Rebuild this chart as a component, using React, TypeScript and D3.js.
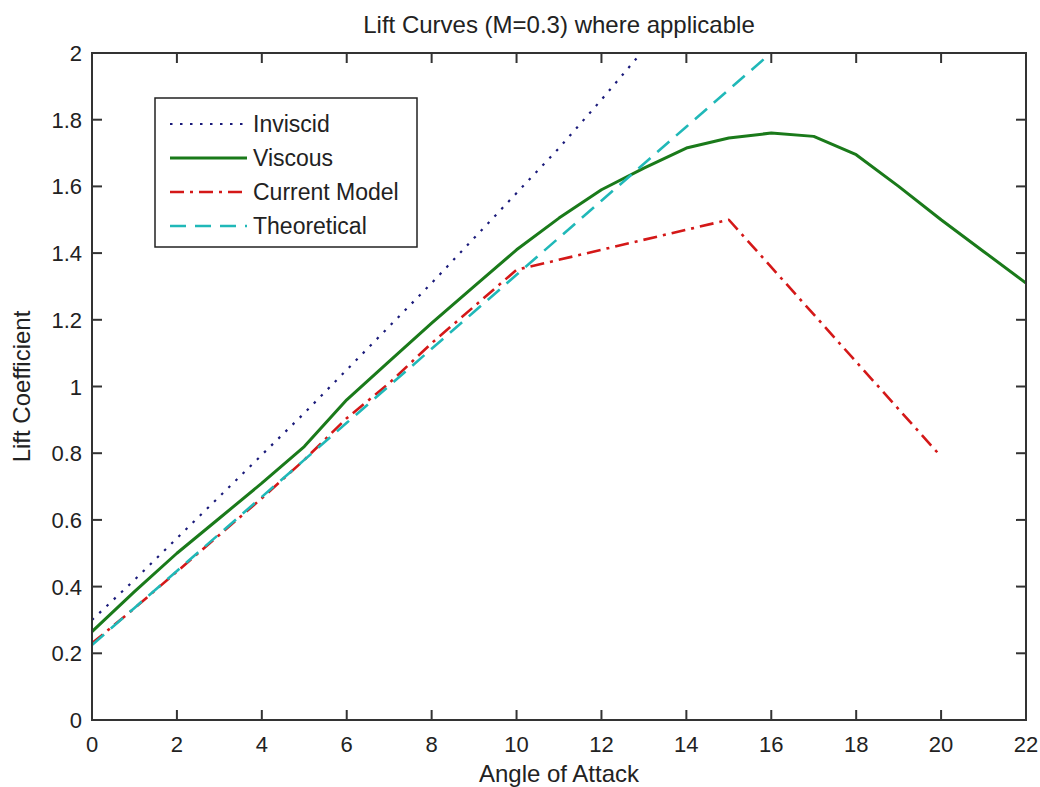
import React from "react";
import * as d3 from "d3";

const title = "Lift Curves (M=0.3) where applicable";
const xLabel = "Angle of Attack";
const yLabel = "Lift Coefficient";

const xTicks = [0, 2, 4, 6, 8, 10, 12, 14, 16, 18, 20, 22];
const yTicks = [0, 0.2, 0.4, 0.6, 0.8, 1, 1.2, 1.4, 1.6, 1.8, 2];

const inviscidAlpha = [0, 1, 2, 3, 4, 5, 6, 7, 8, 9, 10, 11, 12, 13];
const inviscidCL = [0.3, 0.42, 0.545, 0.67, 0.795, 0.92, 1.05, 1.18, 1.31, 1.445, 1.58, 1.715, 1.86, 2.01];

const viscousAlpha = [0, 1, 2, 3, 4, 5, 6, 7, 8, 9, 10, 11, 12, 13, 14, 15, 16, 17, 18, 19, 20, 21, 22];
const viscousCL = [0.265, 0.385, 0.5, 0.605, 0.71, 0.82, 0.96, 1.075, 1.19, 1.3, 1.41, 1.505, 1.59, 1.655, 1.715, 1.745, 1.76, 1.75, 1.695, 1.6, 1.5, 1.405, 1.31];

const currentAlpha = [0, 1, 2, 3, 4, 5, 6, 7, 8, 9, 10, 15, 20];
const currentCL = [0.23, 0.335, 0.445, 0.555, 0.665, 0.78, 0.905, 1.01, 1.13, 1.24, 1.35, 1.5, 0.79];

const theoryAlpha = [0, 1, 2, 3, 4, 5, 6, 7, 8, 9, 10, 11, 12, 13, 14, 15, 16, 17];
const theoryCL = [0.225, 0.336, 0.447, 0.558, 0.669, 0.78, 0.891, 1.002, 1.113, 1.224, 1.335, 1.446, 1.557, 1.668, 1.779, 1.89, 2.001, 2.112];

const seriesNames = ["Inviscid", "Viscous", "Current Model", "Theoretical"];
const seriesColors = ["#1a1a7a", "#1a7a1a", "#d41818", "#20b8b8"];

const W = 1040;
const H = 787;
const M = { left: 92, right: 1026, top: 53, bottom: 720 };
const FONT = "'Liberation Sans', Arial, Helvetica, sans-serif";

export default function App() {
  const x = d3.scaleLinear().domain([0, 22]).range([M.left, M.right]);
  const y = d3.scaleLinear().domain([0, 2]).range([M.bottom, M.top]);
  const mk = (a: number[], c: number[]) =>
    d3.line<number>().x((_, i) => x(a[i])).y((_, i) => y(c[i]))(a) || "";

  const styles = [
    { w: 2.2, dash: "2.5,7.5", cap: "butt" },
    { w: 3, dash: "", cap: "butt" },
    { w: 2.6, dash: "14,6,3,6", cap: "butt" },
    { w: 2.6, dash: "16,9", cap: "butt" },
  ];
  const paths = [
    mk(inviscidAlpha, inviscidCL),
    mk(viscousAlpha, viscousCL),
    mk(currentAlpha, currentCL),
    mk(theoryAlpha, theoryCL),
  ];
  const tickLen = 10;
  const axisColor = "#333";

  const leg = { x: 155, y: 98, w: 262, h: 149 };
  const rowY = [124, 158, 192, 226];

  return (
    <svg width={W} height={H} style={{ position: "absolute", left: 0, top: 0, background: "#fff" }} fontFamily={FONT}>
      <defs>
        <clipPath id="plotclip">
          <rect x={M.left} y={M.top} width={M.right - M.left} height={M.bottom - M.top} />
        </clipPath>
      </defs>
      <rect x={0} y={0} width={W} height={H} fill="#fff" />
      <g clipPath="url(#plotclip)">
        {paths.map((d, i) => (
          <path key={i} d={d} fill="none" stroke={seriesColors[i]} strokeWidth={styles[i].w}
            strokeDasharray={styles[i].dash || undefined} strokeLinecap={styles[i].cap as any} strokeLinejoin="round" />
        ))}
      </g>
      {/* axes box */}
      <rect x={M.left} y={M.top} width={M.right - M.left} height={M.bottom - M.top} fill="none" stroke={axisColor} strokeWidth={2} />
      {xTicks.map((t) => (
        <g key={"x" + t}>
          <line x1={x(t)} x2={x(t)} y1={M.bottom} y2={M.bottom - tickLen} stroke={axisColor} strokeWidth={2} />
          <line x1={x(t)} x2={x(t)} y1={M.top} y2={M.top + tickLen} stroke={axisColor} strokeWidth={2} />
          <text x={x(t)} y={752} textAnchor="middle" fontSize={22} fill="#222">{t}</text>
        </g>
      ))}
      {yTicks.map((t) => (
        <g key={"y" + t}>
          <line x1={M.left} x2={M.left + tickLen} y1={y(t)} y2={y(t)} stroke={axisColor} strokeWidth={2} />
          <line x1={M.right} x2={M.right - tickLen} y1={y(t)} y2={y(t)} stroke={axisColor} strokeWidth={2} />
          <text x={82} y={y(t) + 8} textAnchor="end" fontSize={22} fill="#222">{String(t)}</text>
        </g>
      ))}
      <text x={(M.left + M.right) / 2} y={33} textAnchor="middle" fontSize={24} fill="#222">{title}</text>
      <text x={(M.left + M.right) / 2} y={782} textAnchor="middle" fontSize={24} fill="#222">{xLabel}</text>
      <text transform={`translate(30,${(M.top + M.bottom) / 2}) rotate(-90)`} textAnchor="middle" fontSize={24} fill="#222">{yLabel}</text>
      {/* legend */}
      <rect x={leg.x} y={leg.y} width={leg.w} height={leg.h} fill="#fff" stroke="#222" strokeWidth={1.5} />
      {seriesNames.map((n, i) => (
        <g key={n}>
          <line x1={170} x2={247} y1={rowY[i]} y2={rowY[i]} stroke={seriesColors[i]} strokeWidth={styles[i].w}
            strokeDasharray={styles[i].dash || undefined} />
          <text x={253} y={rowY[i] + 8} fontSize={23} fill="#222">{n}</text>
        </g>
      ))}
    </svg>
  );
}
